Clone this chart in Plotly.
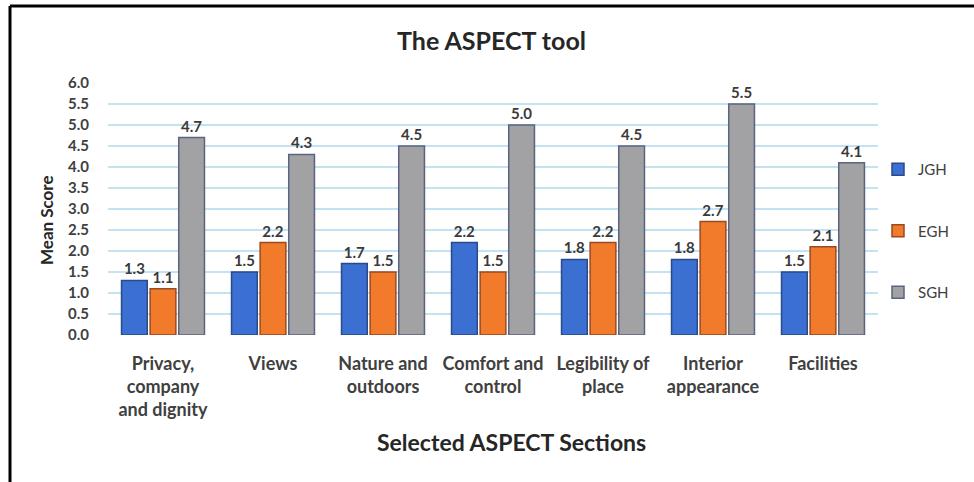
import plotly.graph_objects as go

categories = ["Privacy,<br>company<br>and dignity", "Views", "Nature and<br>outdoors",
              "Comfort and<br>control", "Legibility of<br>place", "Interior<br>appearance", "Facilities"]
jgh = [1.3, 1.5, 1.7, 2.2, 1.8, 1.8, 1.5]
egh = [1.1, 2.2, 1.5, 1.5, 2.2, 2.7, 2.1]
sgh = [4.7, 4.3, 4.5, 5.0, 4.5, 5.5, 4.1]
series_names = ["JGH", "EGH", "SGH"]
y_ticks = [i * 0.5 for i in range(13)]

FONT = "Lato"
colors = ["#3b6fd2", "#f17b2b", "#a2a2a4"]
edges = ["#2a4a8a", "#9a4a20", "#5a6480"]

fig = go.Figure()
for i, (name, vals) in enumerate(zip(series_names, [jgh, egh, sgh])):
    fig.add_trace(go.Bar(
        x=categories, y=vals, name=name,
        marker=dict(color=colors[i], line=dict(color=edges[i], width=1.5)),
        texttemplate="<b>%{y:.1f}</b>", textposition="outside",
        textfont=dict(family=FONT, size=15, color="#3a3a3a"),
        cliponaxis=False, legendgroup=name,
    ))

L, R, T, B = 108, 878, 83, 335
W, H = 974, 482
pw, ph = R - L, B - T

def px(x):
    return (x - L) / pw

def py(y):
    return (B - y) / ph

fig.update_layout(
    width=W, height=H,
    margin=dict(l=L, r=W - R, t=T, b=H - B),
    paper_bgcolor="white", plot_bgcolor="white",
    barmode="group", bargap=0.22, bargroupgap=0.1,
    font=dict(family=FONT, color="#404040"),
    showlegend=True,
    legend=dict(x=px(878), y=py(153), xanchor="left", yanchor="top",
                font=dict(family=FONT, size=15, color="#404040"),
                tracegroupgap=39, bgcolor="rgba(0,0,0,0)"),
    xaxis=dict(showgrid=False, showline=False, ticks="outside", ticklen=12,
               tickcolor="rgba(0,0,0,0)",
               tickfont=dict(family=FONT, size=18, color="#404040", weight="bold")),
    yaxis=dict(range=[0, 6], tickvals=y_ticks, tickformat=".1f",
               showgrid=True, gridcolor="#c3e2f2", gridwidth=1.5,
               zeroline=False, showline=False,
               ticks="outside", ticklen=15, tickcolor="rgba(0,0,0,0)",
               tickfont=dict(family=FONT, size=15, color="#404040", weight="bold")),
    annotations=[
        dict(text="<b>The ASPECT tool</b>", x=px(491), y=py(40), xref="paper", yref="paper",
             xanchor="center", yanchor="middle",
             showarrow=False, font=dict(family=FONT, size=25, color="#262626")),
        dict(text="<b>Selected ASPECT Sections</b>", x=px(512), y=py(442), xref="paper", yref="paper",
             xanchor="center", yanchor="middle",
             showarrow=False, font=dict(family=FONT, size=23, color="#262626")),
        dict(text="<b>Mean Score</b>", x=px(46), y=py(220), xref="paper", yref="paper",
             xanchor="center", yanchor="middle",
             showarrow=False, textangle=-90, font=dict(family=FONT, size=17, color="#262626")),
    ],
    shapes=[
        dict(type="line", xref="paper", yref="paper", x0=px(10), x1=px(974), y0=py(6), y1=py(6),
             line=dict(color="black", width=3)),
        dict(type="line", xref="paper", yref="paper", x0=px(10), x1=px(10), y0=py(6), y1=py(482),
             line=dict(color="black", width=3)),
    ],
)

fig.write_html("out.html", config={"displayModeBar": False})
with open("out.html", "r", encoding="utf-8") as f:
    html = f.read()
html = html.replace("<head>", "<head><style>html,body{margin:0;padding:0;}</style>", 1)
with open("out.html", "w", encoding="utf-8") as f:
    f.write(html)
